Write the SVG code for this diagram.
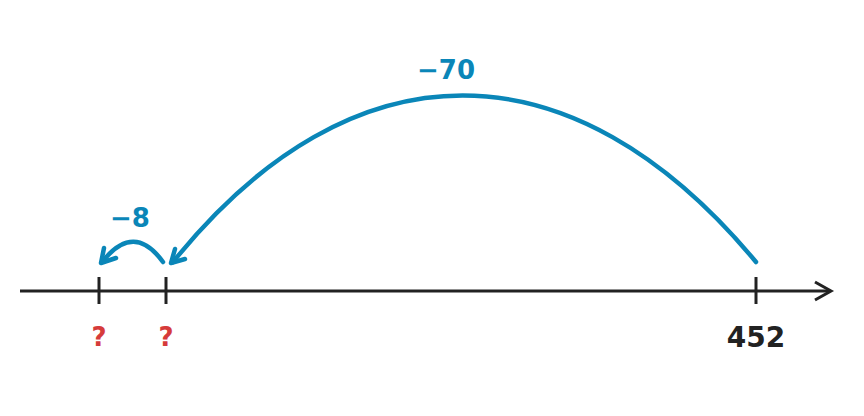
<svg xmlns="http://www.w3.org/2000/svg" width="864" height="416" viewBox="0 0 864 416">
<style>
.axis{stroke:#222;stroke-width:3;fill:none;stroke-linecap:butt}
.tick{stroke:#222;stroke-width:3;fill:none}
.jump{stroke:#0a86b8;stroke-width:4.5;fill:none;stroke-linecap:round;stroke-linejoin:round}
.lbl{font-family:"DejaVu Sans",sans-serif;font-weight:bold;text-anchor:middle}
.blue{fill:#0a86b8;font-size:26px}
.red{fill:#d63b3b;font-size:26px}
.dark{fill:#222;font-size:28px}
</style>
<rect width="864" height="416" fill="#fff"/>
<g id="axis">
<line class="axis" x1="20" y1="291" x2="830" y2="291"/>
<polyline class="axis" points="815,282 831,291 815,300" stroke-linejoin="miter"/>
</g>
<g id="tick-a"><line class="tick" x1="99" y1="277" x2="99" y2="304"/><text class="lbl red" x="99" y="346">?</text></g>
<g id="tick-b"><line class="tick" x1="166" y1="277" x2="166" y2="304"/><text class="lbl red" x="166" y="346">?</text></g>
<g id="tick-452"><line class="tick" x1="756" y1="277" x2="756" y2="304"/><text class="lbl dark" x="756" y="347">452</text></g>
<g id="connectors">
<g id="jump-70">
<path class="jump" d="M756,262 C572,40 352,40 173,262"/>
<polyline class="jump" points="175,249 171,263 185,259"/>
<text class="lbl blue" x="446" y="79">−70</text>
</g>
<g id="jump-8">
<path class="jump" d="M163,262 Q134,222 103,261"/>
<polyline class="jump" points="104,248 101,263 116,258"/>
<text class="lbl blue" x="130" y="227">−8</text>
</g>
</g>
</svg>
